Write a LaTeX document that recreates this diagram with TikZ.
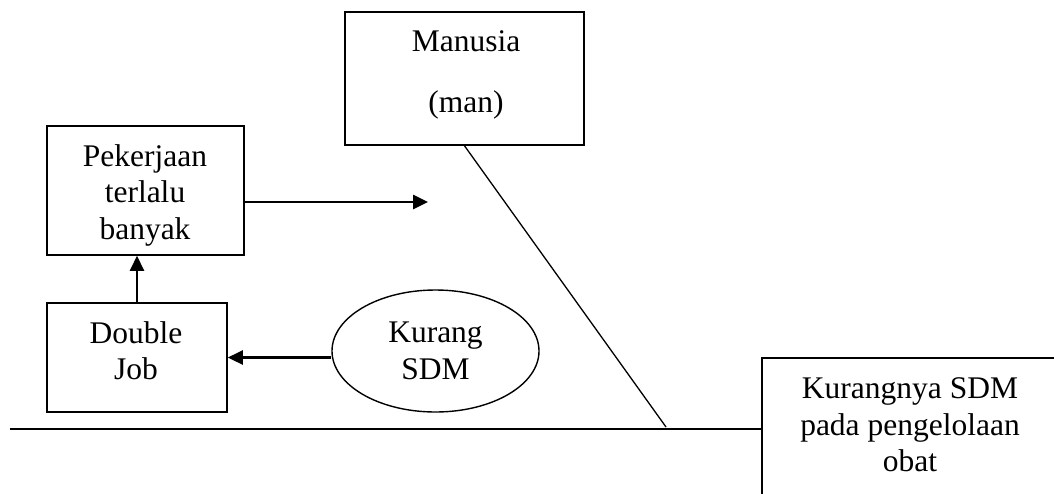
\documentclass[tikz,border=0pt]{standalone}
\usepackage{fontspec}
\setmainfont{Liberation Serif}
\usetikzlibrary{arrows.meta,shapes.geometric}
\begin{document}
\begin{tikzpicture}[x=1pt,y=-1pt,
  box/.style={draw,line width=1.6pt,rectangle,inner sep=0pt},
  oval/.style={draw,line width=1.4pt,ellipse,inner sep=0pt,align=center,font=\fontsize{31.5}{36.5}\selectfont},
  txt/.style={align=center,inner sep=0pt,font=\fontsize{31.5}{36.5}\selectfont},
  arr/.style={line width=2.6pt,-{Triangle[length=15pt,width=14pt]}},
  bone/.style={line width=1.3pt},
  spine/.style={line width=1.8pt}]
\useasboundingbox (0,0) rectangle (1054,493);
\clip (0,0) rectangle (1054,493);
% boxes
\node[box,minimum width=239pt,minimum height=133pt] (man) at (464.5,78.5) {};
\node[txt] (mantxt) at (466,75) {Manusia\\[24.5pt](man)};
\node[box,minimum width=197pt,minimum height=129pt] (pek) at (145.5,190.5) {};
\node[txt] (pektxt) at (145,195) {Pekerjaan\\terlalu\\banyak};
\node[box,minimum width=180pt,minimum height=109pt] (dj) at (137,357.5) {};
\node[txt] (djtxt) at (136,350.5) {Double\\Job};
\node[oval,minimum width=207pt,minimum height=122pt] (ell) at (435.5,351) {Kurang\\SDM};
\node[box,minimum width=400pt,minimum height=300pt,anchor=north west] (eff) at (761,357) {};
\node[txt] (efftxt) at (910,425) {Kurangnya SDM\\pada pengelolaan\\obat};
% coordinates
\coordinate (spineL) at (10,429);
\coordinate (boneEnd) at (666,427);
\coordinate (tipA) at (428,202);
% connectors
\draw[spine] (spineL) -- (eff.west |- spineL);
\draw[bone] (man.south) -- (boneEnd);
\draw[arr] (pek.east |- tipA) -- (tipA);
\draw[arr] (dj.north) -- (dj.north |- pek.south);
\draw[arr] (ell.west |- dj.east) -- (dj.east);
\end{tikzpicture}
\end{document}
